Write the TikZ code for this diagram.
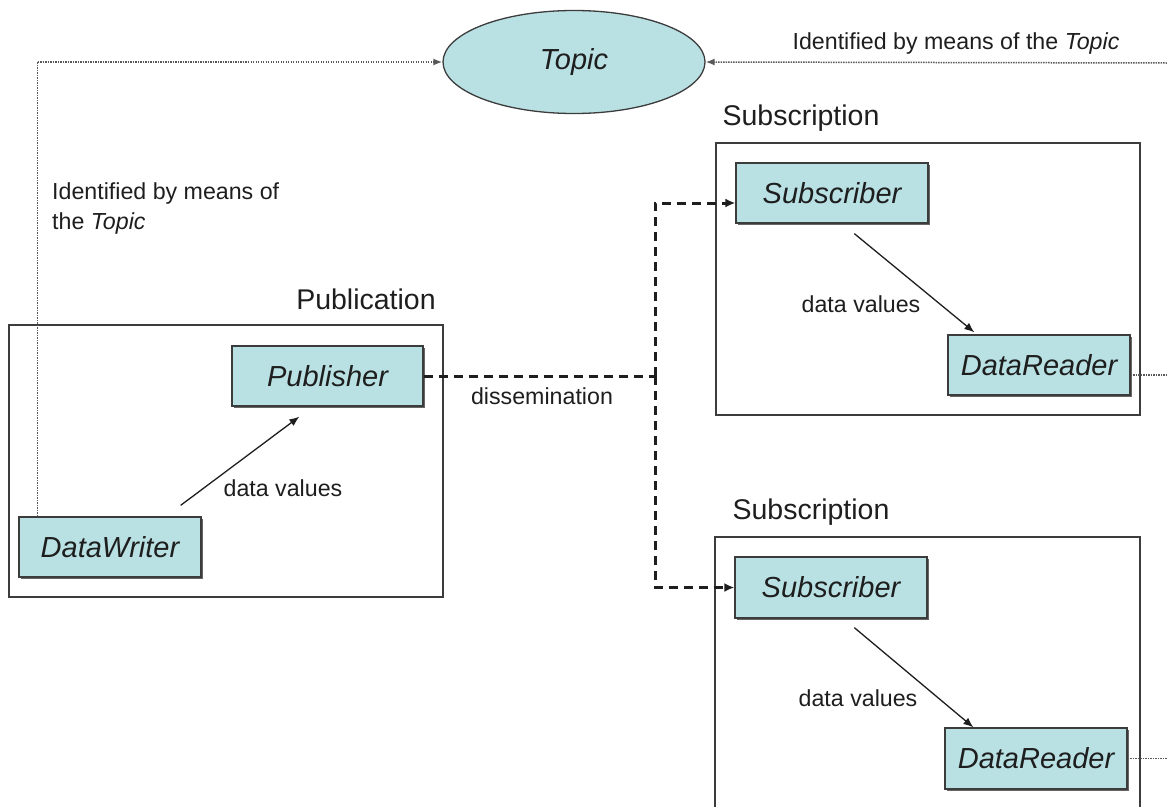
\documentclass[tikz,border=0pt]{standalone}
\usepackage{fontspec}
\setmainfont{Liberation Sans}
\usetikzlibrary{shapes.geometric,arrows.meta,calc,shadows}
\definecolor{boxfill}{RGB}{185,225,228}
\definecolor{ink}{RGB}{30,30,30}
\definecolor{edge}{RGB}{60,60,60}
\tikzset{
  elem/.style={draw=edge, line width=1.3pt, fill=boxfill, rectangle, inner sep=0pt,
    drop shadow={shadow xshift=1.5pt, shadow yshift=-1.5pt, fill=black!60, opacity=1},
    font=\fontsize{29}{34}\selectfont\itshape, text=ink},
  frame/.style={draw=edge, line width=1.4pt, rectangle, inner sep=0pt},
  title/.style={font=\fontsize{28.5}{34}\selectfont, text=ink, inner sep=0pt},
  lbl/.style={font=\fontsize{23.2}{30}\selectfont, text=ink, inner sep=0pt},
  dotline/.style={draw=black!65, line width=1.5pt, dash pattern=on 1.4pt off 1.1pt},
  dashline/.style={draw=ink, line width=3pt, dash pattern=on 9pt off 6pt},
  flow/.style={draw=ink, line width=1.3pt, -{Latex[length=10pt,width=8pt]}},
}
\begin{document}
\begin{tikzpicture}[x=1pt,y=-1pt]
\useasboundingbox (0,0) rectangle (1167,806);
\clip (0,0) rectangle (1167,806);
% topic
\node[ellipse, draw=edge, line width=1.3pt, fill=boxfill, minimum width=262pt, minimum height=103pt,
  font=\fontsize{29}{34}\selectfont\itshape, text=ink] (topic) at (574,62) {Topic};
% publication
\node[frame, minimum width=434pt, minimum height=272pt] (pubbox) at (226,461) {};
\node[title] (pubtitle) at (366,299) {Publication};
\node[elem, minimum width=191pt, minimum height=60pt] (publisher) at (327.5,376) {Publisher};
\node[elem, minimum width=182pt, minimum height=60pt] (dw) at (110,547) {DataWriter};
% subscription 1
\node[frame, minimum width=424pt, minimum height=272pt] (subbox1) at (928,279) {};
\node[title] (subtitle1) at (801,118) {Subscription};
\node[elem, minimum width=192pt, minimum height=60pt] (sub1) at (832,193) {Subscriber};
\node[elem, minimum width=182pt, minimum height=60pt] (dr1) at (1039,365) {DataReader};
% subscription 2
\node[frame, minimum width=425pt, minimum height=290pt] (subbox2) at (927.5,682) {};
\node[title] (subtitle2) at (811,512) {Subscription};
\node[elem, minimum width=192pt, minimum height=61pt] (sub2) at (831,587.5) {Subscriber};
\node[elem, minimum width=182pt, minimum height=61pt] (dr2) at (1036,758.5) {DataReader};
% free ends
\coordinate (topright) at (1167,63);
\coordinate (out1) at (1167,375);
\coordinate (out2) at (1167,758.5);
\coordinate (split) at (655,376);
% dotted topic links
\draw[dotline, -{Latex[length=9pt,width=7pt]}] ([xshift=19pt]dw.north west) |- (topic.west);
\draw[dotline, -{Latex[length=9pt,width=7pt]}] (topright) -- (topic.east);
\draw[dotline] (dr1.east |- out1) -- (out1);
\draw[dotline] (dr2.east) -- (out2);
% dissemination
\draw[dashline] (publisher.east) -- (split);
\draw[dashline, -{Latex[length=10pt,width=9pt]}] (split) |- ([yshift=-10pt]sub1.west);
\draw[dashline, -{Latex[length=10pt,width=9pt]}] (split) |- (sub2.west);
% data values arrows
\draw[flow] ($(dw.north east)+(-21,-11)$) -- ($(publisher.south west)+(68,10)$);
\draw[flow] ($(sub1.south west)+(119,10)$) -- ($(dr1.north west)+(27,-2)$);
\draw[flow] ($(sub2.south west)+(120,9)$) -- ($(dr2.north west)+(29,0)$);
% labels
\node[lbl, anchor=west, align=left] (idleft) at (52,208) {Identified by means of\\the \textit{Topic}};
\node[lbl] (idright) at (956,43) {Identified by means of the \textit{Topic}};
\node[lbl] (dv0) at (283,488) {data values};
\node[lbl] (diss) at (542,396) {dissemination};
\node[lbl] (dv1) at (861,304) {data values};
\node[lbl] (dv2) at (858,698) {data values};
\end{tikzpicture}
\end{document}
